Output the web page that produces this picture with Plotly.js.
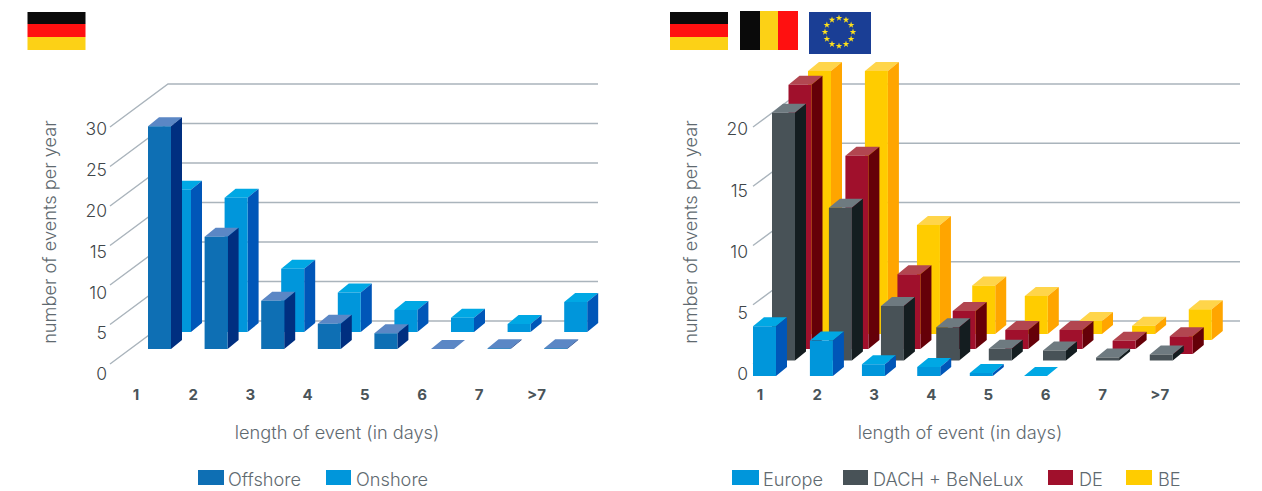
<!DOCTYPE html>
<html>
<head>
<meta charset="utf-8">
<script src="https://cdn.plot.ly/plotly-3.0.1.min.js"></script>
<style>html,body{margin:0;padding:0;background:#fff}#chart{width:1262px;height:491px}</style>
</head>
<body>
<div id="chart"></div>
<script>
// Event counts per year by event length
const categories = ['1', '2', '3', '4', '5', '6', '7', '>7'];
const categoryNumbers = [1, 2, 3, 4, 5, 6, 7, 8];
const offshoreValues = [28.2, 14.2, 6.1, 3.2, 2, 0, 0.1, 0.1];
const onshoreValues = [18, 17, 8, 5, 2.8, 1.8, 1, 3.8];
const europeValues = [4.2, 3, 1, 0.75, 0.25, 0, null, null];
const dachValues = [20.9, 12.9, 4.6, 2.8, 1, 0.85, 0.25, 0.5];
const deValues = [22.3, 16.3, 6.3, 3.2, 1.6, 1.6, 0.7, 1.5];
const beValues = [22.2, 22.2, 9.2, 4.1, 3.2, 1.1, 0.7, 2.6];
const leftTicks = [0, 5, 10, 15, 20, 25, 30];
const rightTicks = [0, 5, 10, 15, 20];
const yTitle = 'number of events per year';
const xTitle = 'length of event (in days)';

const W = 1262, H = 491;
const FONT = 'Inter, "Open Sans", sans-serif';
const BAR_W = 23, SIDE_X = 11, SIDE_Y = 9;

const PALETTE = {
  offshore: {front: '#0e6fb4', side: '#002f80', top: '#5b87c5'},
  onshore:  {front: '#0096db', side: '#0056b8', top: '#00a8e4'},
  europe:   {front: '#0096db', side: '#0056b8', top: '#00a8e4'},
  dach:     {front: '#485257', side: '#141d20', top: '#6e7a80'},
  de:       {front: '#a0102c', side: '#650008', top: '#b24650'},
  be:       {front: '#ffcc00', side: '#ffa500', top: '#ffd54a'}
};

// Chart frames: the floor's front edge, the receding wall and per-row placement, in px
const leftChart = {
  xa: 'x', ya: 'y', zero: 364, perUnit: 7.9, front: 110, back: 168, right: 598, rise: 43,
  ticks: leftTicks, step: 56.6, slots: [0, 1, 2, 3, 4, 5, 6, 7],
  rows: [
    {values: onshoreValues, colors: PALETTE.onshore, left: 168, base: 332},
    {values: offshoreValues, colors: PALETTE.offshore, left: 148, base: 349}
  ]
};
const rightChart = {
  xa: 'x2', ya: 'y2', zero: 364, perUnit: 11.85, front: 753, back: 811, right: 1240, rise: 43,
  ticks: rightTicks, step: 54.2, slots: [0, 1.05, 2.01, 3.03, 4, 5, 5.98, 6.97],
  rows: [
    {values: beValues, colors: PALETTE.be, left: 808, base: 334, lastDx: 3, lastDrop: 6},
    {values: deValues, colors: PALETTE.de, left: 788.5, base: 349, lastDx: 3.5, lastDrop: 5},
    {values: dachValues, colors: PALETTE.dach, left: 772, base: 360.5},
    {values: europeValues, colors: PALETTE.europe, left: 753, base: 376}
  ]
};

// Horizontal pixels double as the x unit on the drawing axes; y is in events
function drawingAxes(c) {
  return [
    {domain: [0, 1], range: [0, W], visible: false, fixedrange: true},
    {domain: [0, 1], range: [-(H - c.zero) / c.perUnit, c.zero / c.perUnit], visible: false, fixedrange: true}
  ];
}

function wallTrace(c) {
  const xs = [], ys = [], lift = c.rise / c.perUnit;
  c.ticks.forEach(t => {
    xs.push(c.front, c.back, c.right, null);
    ys.push(t, t + lift, t + lift, null);
  });
  return {type: 'scatter', mode: 'lines', xaxis: c.xa, yaxis: c.ya, x: xs, y: ys,
          line: {color: '#aab4bc', width: 1.4}, hoverinfo: 'skip', showlegend: false};
}

// One filled trace per face, each holding that face's polygon for every bar of the row
function rowTraces(c, row) {
  const face = {front: [[], []], side: [[], []], top: [[], []]};
  const sx = SIDE_X, sy = SIDE_Y / c.perUnit;
  const add = (f, px, py) => {
    px.forEach(v => f[0].push(v)); f[0].push(null);
    py.forEach(v => f[1].push(v)); f[1].push(null);
  };
  row.values.forEach((v, i) => {
    if (v === null) return;
    const isLast = i === row.values.length - 1;
    const l = row.left + c.slots[i] * c.step + (isLast && row.lastDx ? row.lastDx : 0);
    const r = l + BAR_W;
    const b = (c.zero - row.base - (isLast && row.lastDrop ? row.lastDrop : 0)) / c.perUnit;
    const t = b + v;
    add(face.front, [l, r, r, l, l], [b, b, t, t, b]);
    add(face.side, [r, r + sx, r + sx, r, r], [b, b + sy, t + sy, t, b]);
    add(face.top, [l, r, r + sx, l + sx, l], [t, t, t + sy, t + sy, t]);
  });
  return ['top', 'side', 'front'].map(k => ({
    type: 'scatter', mode: 'none', fill: 'toself', fillcolor: row.colors[k],
    xaxis: c.xa, yaxis: c.ya, x: face[k][0], y: face[k][1], hoverinfo: 'skip', showlegend: false
  }));
}

const fx = p => p / W, fy = p => 1 - p / H;

// Tick-label axis along x: categories placed at their own pitch
function xLabelAxis(firstPx, pitch, left, right) {
  return {
    domain: [fx(left), fx(right)],
    range: [1 + (left - firstPx) / pitch, 1 + (right - firstPx) / pitch],
    anchor: 'free', position: fy(384), side: 'bottom',
    tickmode: 'array', tickvals: categoryNumbers, ticktext: categories,
    showgrid: false, zeroline: false, showline: false, ticks: '', fixedrange: true,
    tickfont: {family: FONT, size: 15, color: '#4a5459', weight: 700},
    title: {text: xTitle, standoff: 23, font: {family: FONT, size: 18.2, color: '#5f6a70', weight: 300}}
  };
}
// Tick-label axis along y, carrying the value labels and the rotated title
function yLabelAxis(zeroPx, perUnit, ticks, atPx) {
  const top = 64, bottom = 400;
  return {
    domain: [fy(bottom), fy(top)],
    range: [(zeroPx - bottom) / perUnit, (zeroPx - top) / perUnit],
    anchor: 'free', position: fx(atPx), side: 'left',
    tickmode: 'array', tickvals: ticks, ticktext: ticks.map(String),
    showgrid: false, zeroline: false, showline: false, ticks: '', fixedrange: true,
    tickfont: {family: FONT, size: 17.5, color: '#3f4649', weight: 300},
    title: {text: yTitle, standoff: 23, font: {family: FONT, size: 18.2, color: '#5f6a70', weight: 300}}
  };
}

const [lx, ly] = drawingAxes(leftChart);
const [rx, ry] = drawingAxes(rightChart);

// Full-page pixel frame used for the flags and the legend keys
const pageX = {domain: [0, 1], range: [0, W], visible: false, fixedrange: true};
const pageY = {domain: [0, 1], range: [H, 0], visible: false, fixedrange: true};

const rect = (x0, y0, x1, y1, color) => ({
  type: 'rect', xref: 'x5', yref: 'y5', x0, y0, x1, y1, fillcolor: color, line: {width: 0}, layer: 'below'
});
const BLACK = '#0a0a0a', RED = '#ff1010', GOLD = '#fcd116';
const germany = x => [
  rect(x, 12, x + 58, 24, BLACK), rect(x, 24, x + 58, 37, RED), rect(x, 37, x + 58, 50, GOLD)
];
const shapes = [
  ...germany(27.5), ...germany(670),
  rect(740, 11, 760, 50, BLACK), rect(760, 11, 778, 50, GOLD), rect(778, 11, 798, 50, RED),
  rect(809, 12, 871, 54, '#1a3e95')
];

// Legend keys: label, swatch colour and position along the bottom row
const legendItems = [
  {label: 'Offshore', color: PALETTE.offshore.front, x: 198, key: 26, textX: 228},
  {label: 'Onshore', color: PALETTE.onshore.front, x: 326, key: 25, textX: 356},
  {label: 'Europe', color: PALETTE.europe.front, x: 732, key: 27, textX: 763},
  {label: 'DACH + BeNeLux', color: PALETTE.dach.front, x: 843, key: 25, textX: 873},
  {label: 'DE', color: PALETTE.de.front, x: 1048, key: 25, textX: 1079},
  {label: 'BE', color: PALETTE.be.front, x: 1126, key: 26, textX: 1158}
];
legendItems.forEach(it => shapes.push(rect(it.x, 470, it.x + it.key, 485, it.color)));
const annotations = legendItems.map(it => ({
  xref: 'x5', yref: 'y5', x: it.textX, y: 478.5, text: it.label, showarrow: false,
  xanchor: 'left', yanchor: 'middle', xshift: -2,
  font: {family: FONT, size: 18.2, color: '#5f6a70', weight: 300}
}));

// The twelve stars of the EU flag
const starX = [], starY = [];
for (let k = 0; k < 12; k++) {
  const a = k * Math.PI / 6;
  starX.push(839 + 14 * Math.sin(a));
  starY.push(32 - 14 * Math.cos(a));
}

const hiddenFor = (xa, ya) => ({
  type: 'scatter', mode: 'none', x: [1], y: [0], xaxis: xa, yaxis: ya, hoverinfo: 'skip', showlegend: false
});

const traces = [
  wallTrace(leftChart),
  ...leftChart.rows.flatMap(r => rowTraces(leftChart, r)),
  wallTrace(rightChart),
  ...rightChart.rows.flatMap(r => rowTraces(rightChart, r)),
  hiddenFor('x3', 'y3'),
  hiddenFor('x4', 'y4'),
  {type: 'scatter', mode: 'markers', x: starX, y: starY, xaxis: 'x5', yaxis: 'y5',
   marker: {symbol: 'star', size: 5, color: '#ffe11a'}, hoverinfo: 'skip', showlegend: false}
];

const layout = {
  width: W, height: H,
  margin: {l: 0, r: 0, t: 0, b: 0},
  paper_bgcolor: '#ffffff', plot_bgcolor: 'rgba(0,0,0,0)',
  showlegend: false, hovermode: false,
  xaxis: lx, yaxis: ly,
  xaxis2: rx, yaxis2: ry,
  xaxis3: xLabelAxis(136, 57.2, 100, 574),
  yaxis3: yLabelAxis(374, 8.16, leftTicks, 107),
  xaxis4: xLabelAxis(760, 57.1, 750, 1170),
  yaxis4: yLabelAxis(374, 12.24, rightTicks, 748),
  xaxis5: pageX, yaxis5: pageY,
  shapes, annotations
};

Plotly.newPlot('chart', traces, layout, {displayModeBar: false, staticPlot: true});
</script>
</body>
</html>
